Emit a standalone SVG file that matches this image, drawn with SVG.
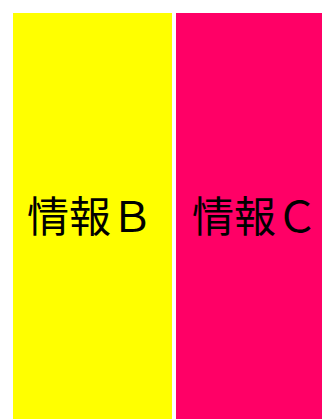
<svg xmlns="http://www.w3.org/2000/svg" width="322" height="419" viewBox="0 0 322 419">
<style>
.t{font-family:"Noto Sans CJK JP","Noto Sans",sans-serif;font-size:42px;fill:#000}
</style>
<rect width="322" height="419" fill="#fff"/>
<g id="nodeB"><rect x="13" y="13" width="159" height="406" fill="#ffff00"/><text class="t" x="27" y="232">情報Ｂ</text></g>
<g id="nodeC"><rect x="176" y="13" width="146" height="406" fill="#ff0066"/><text class="t" x="192" y="232">情報Ｃ</text></g>
<g id="connectors"></g>
</svg>
